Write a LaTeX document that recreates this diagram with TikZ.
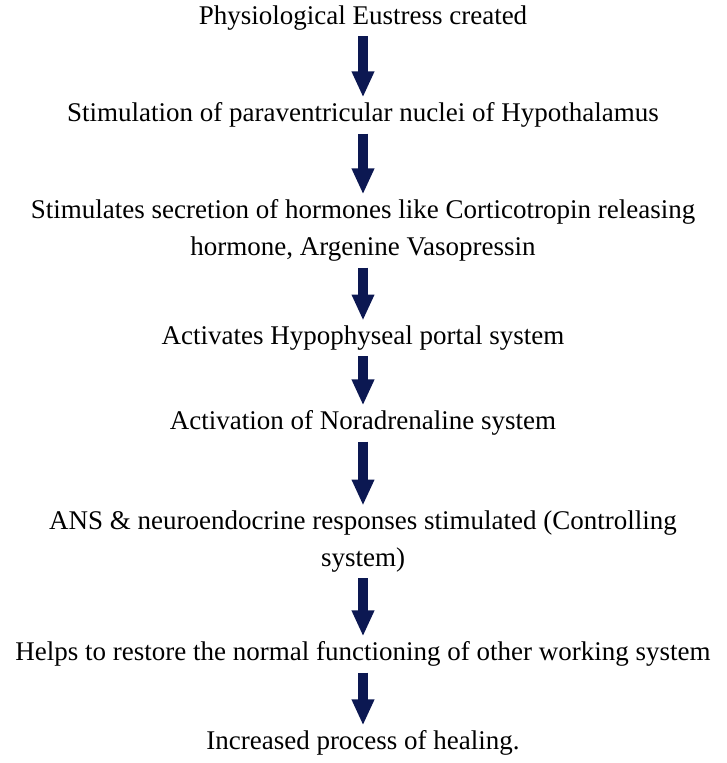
\documentclass[tikz,border=0pt]{standalone}
\usepackage{fontspec}
\setmainfont{Liberation Serif}
\usepackage{tikz}
\usetikzlibrary{arrows.meta,positioning}
\definecolor{navyblue}{RGB}{12,24,82}
\tikzset{stage/.style={align=center,inner sep=0pt,font=\fontsize{27}{37}\selectfont},
  bigarrow/.style={line width=10.5pt,draw=navyblue,-{Triangle[width=21pt,length=26pt]},
    shorten <=6pt,shorten >=5pt}}

\begin{document}
\begin{tikzpicture}[x=1pt,y=-1pt]
  \useasboundingbox (0,0) rectangle (726,763);
  \node[stage] (s1) at (363,18)    {Physiological Eustress created};
  \node[stage] (s2) at (363,115)   {Stimulation of paraventricular nuclei of Hypothalamus};
  \node[stage] (s3) at (363,230.5) {Stimulates secretion of hormones like Corticotropin releasing\\hormone, Argenine Vasopressin};
  \node[stage] (s4) at (363,338)   {Activates Hypophyseal portal system};
  \node[stage] (s5) at (363,423)   {Activation of Noradrenaline system};
  \node[stage] (s6) at (363,541.5) {ANS \& neuroendocrine responses stimulated (Controlling\\system)};
  \node[stage] (s7) at (363,654)   {Helps to restore the normal functioning of other working system};
  \node[stage] (s8) at (363,743)   {Increased process of healing.};

  \foreach \from/\to in {s1/s2,s2/s3,s3/s4,s4/s5,s5/s6,s6/s7,s7/s8}
      \draw[bigarrow] (\from) -- (\to);
\end{tikzpicture}
\end{document}
